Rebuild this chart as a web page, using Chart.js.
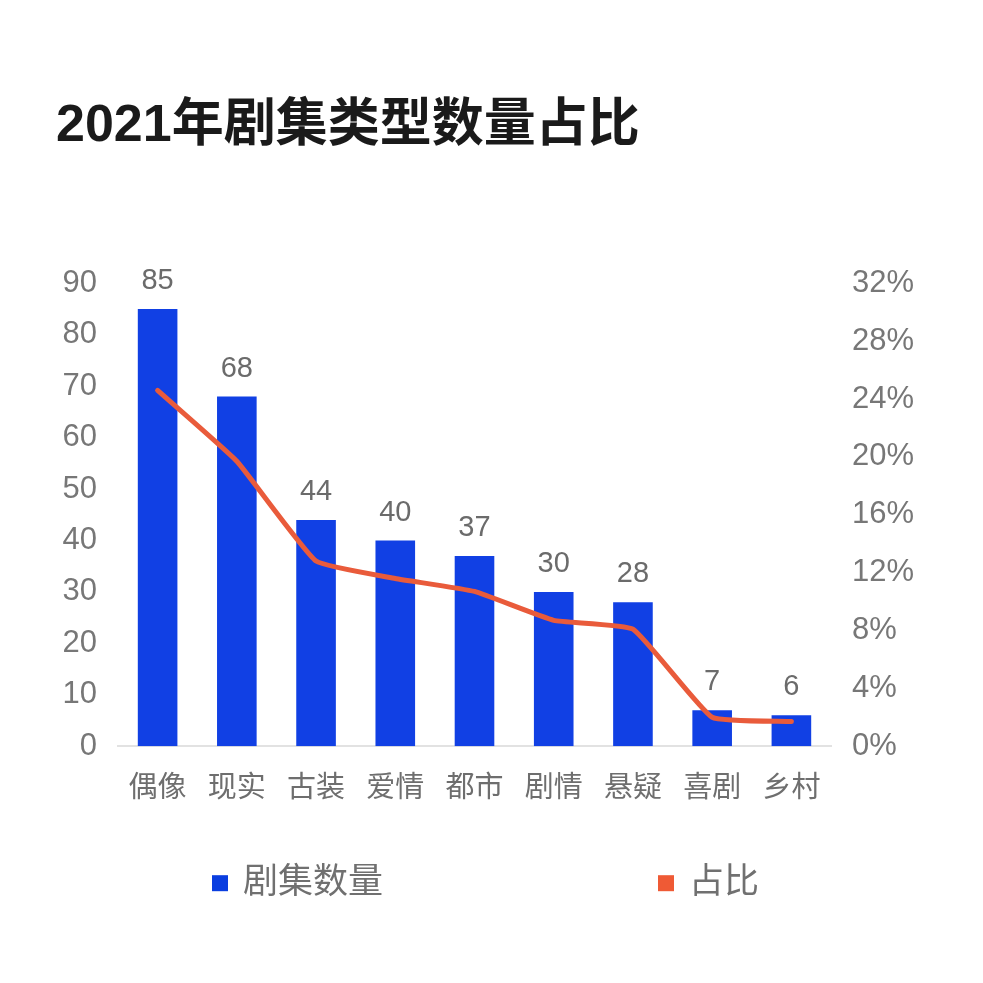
<!DOCTYPE html>
<html>
<head>
<meta charset="utf-8">
<script src="https://cdn.jsdelivr.net/npm/chart.js@4"></script>
<style>
  html, body { margin: 0; padding: 0; background: #fff; }
  #wrap { width: 983px; height: 983px; }
</style>
</head>
<body>
<div id="wrap"><canvas id="genreChart"></canvas></div>
<script>
const categories = ["偶像", "现实", "古装", "爱情", "都市", "剧情", "悬疑", "喜剧", "乡村"];
const counts = [85, 68, 44, 40, 37, 30, 28, 7, 6];
const shares = [24.6, 19.7, 12.8, 11.6, 10.7, 8.7, 8.1, 2.0, 1.7];
const countTicks = [0, 90, 10];   // min, max, step
const shareTicks = [0, 32, 4];

const FONT = "'Liberation Sans', 'Noto Sans CJK SC', sans-serif";
const BLUE = "#1140e4";
const ORANGE = "#e95b3b";

// value labels over the bars
const barLabels = {
  id: "barLabels",
  afterDatasetsDraw(chart) {
    const ctx = chart.ctx;
    const meta = chart.getDatasetMeta(0);
    ctx.save();
    ctx.font = "29px " + FONT;
    ctx.fillStyle = "#6b6b6b";
    ctx.textAlign = "center";
    ctx.textBaseline = "middle";
    meta.data.forEach((bar, i) => {
      ctx.fillText(counts[i], bar.x, bar.y - 28);
    });
    ctx.restore();
  }
};

// wide-spaced legend at the bottom
const wideLegend = {
  id: "wideLegend",
  afterDraw(chart) {
    const ctx = chart.ctx;
    const y = chart.chartArea.bottom + 137;
    const spots = [212, 658];
    ctx.save();
    ctx.font = "35px " + FONT;
    ctx.textBaseline = "middle";
    chart.data.datasets.forEach((ds, i) => {
      const x = spots[i];
      ctx.fillStyle = ds.legendColor;
      ctx.fillRect(x, y - 8, 16, 16);
      ctx.fillStyle = "#707070";
      ctx.fillText(ds.label, x + 31, y);
    });
    ctx.restore();
  }
};

new Chart(document.getElementById("genreChart").getContext("2d"), {
  data: {
    labels: categories,
    datasets: [
      {
        type: "bar",
        label: "剧集数量",
        data: counts,
        yAxisID: "yCount",
        backgroundColor: BLUE,
        legendColor: "#0a3ee0",
        barPercentage: 0.5,
        categoryPercentage: 1,
        order: 1
      },
      {
        type: "line",
        label: "占比",
        data: shares,
        yAxisID: "yShare",
        borderColor: ORANGE,
        legendColor: "#ef5a35",
        borderWidth: 5,
        borderCapStyle: "round",
        borderJoinStyle: "round",
        tension: 0.12,
        pointRadius: 0,
        order: 0
      }
    ]
  },
  options: {
    responsive: true,
    maintainAspectRatio: false,
    animation: false,
    layout: { padding: { left: 56, right: 0, top: 0, bottom: 152 } },
    plugins: {
      legend: { display: false },
      tooltip: { enabled: false },
      title: {
        display: true,
        text: "2021年剧集类型数量占比",
        align: "start",
        color: "#1a1a1a",
        font: { family: FONT, size: 52, weight: "bold", lineHeight: 1.2 },
        padding: { top: 95, bottom: 126 }
      }
    },
    scales: {
      x: {
        grid: { display: false, drawTicks: false },
        border: { display: true, color: "#e2e2e2", width: 2 },
        ticks: { color: "#6e6e6e", padding: 25, font: { family: FONT, size: 29 } },
      },
      yCount: {
        position: "left",
        min: countTicks[0],
        max: countTicks[1],
        grid: { display: false, drawTicks: false },
        border: { display: false },
        ticks: { stepSize: countTicks[2], color: "#777", padding: 21, font: { family: FONT, size: 31 } },
        afterFit(scale) { scale.width = 62; }
      },
      yShare: {
        position: "right",
        min: shareTicks[0],
        max: shareTicks[1],
        grid: { display: false, drawTicks: false },
        border: { display: false },
        ticks: {
          stepSize: shareTicks[2],
          color: "#777",
          padding: 21,
          font: { family: FONT, size: 31 },
          callback: v => v + "%"
        },
        afterFit(scale) { scale.width = 152; }
      }
    }
  },
  plugins: [barLabels, wideLegend]
});
</script>
</body>
</html>
